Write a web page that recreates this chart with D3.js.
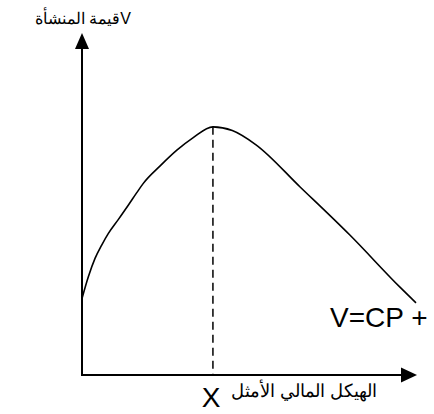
<!DOCTYPE html>
<html><head><meta charset="utf-8">
<script src="https://cdn.jsdelivr.net/npm/d3@7"></script>
<style>body{margin:0;background:#fff}svg{display:block}</style>
</head><body>
<script>
// Curve of firm value V against financial structure (0..100 units)
const curveX = [0, 1.9, 3.9, 5.9, 7.9, 10.9, 13.9, 16.4, 18.3, 23.4, 28.4, 33.2, 39.2, 45, 52, 65.3, 80.2, 95.2, 100];
const curveV = [22.9, 29.4, 34.9, 38.9, 42.4, 46.6, 50.9, 54.6, 57.3, 62.6, 67.3, 71.0, 74.3, 73.2, 69.0, 56.3, 41.9, 26.3, 21.6];
const optimumX = 39.2;
const optimumV = 74.3;
const yLabel = "قيمة المنشأةV";
const xLabel = "الهيكل المالي الأمثل";
const xMark = "X";
const curveLabel = "V=CP +";

const W = 434, H = 414;
const svg = d3.select("body").append("svg").attr("width", W).attr("height", H);
const x = d3.scaleLinear().domain([0, 100]).range([82, 416]);
const y = d3.scaleLinear().domain([0, 100]).range([375, 41]);

// axes
svg.append("line").attr("x1", x(0)).attr("y1", y(0)).attr("x2", x(0)).attr("y2", 48)
  .attr("stroke", "#000").attr("stroke-width", 2);
svg.append("path").attr("d", `M${x(0)-7},49 L${x(0)},33 L${x(0)+7},49 Z`).attr("fill", "#000");
svg.append("line").attr("x1", x(0)-1).attr("y1", y(0)).attr("x2", 402).attr("y2", y(0))
  .attr("stroke", "#000").attr("stroke-width", 2);
svg.append("path").attr("d", `M401,${y(0)-7.5} L417,${y(0)} L401,${y(0)+7.5} Z`).attr("fill", "#000");

// dashed optimum line
svg.append("line").attr("x1", x(optimumX)).attr("y1", y(optimumV)).attr("x2", x(optimumX)).attr("y2", y(0))
  .attr("stroke", "#000").attr("stroke-width", 1.5).attr("stroke-dasharray", "8,5");

// curve
const pts = curveX.map((d, i) => [d, curveV[i]]);
svg.append("path").datum(pts)
  .attr("d", d3.line().x(d => x(d[0])).y(d => y(d[1])).curve(d3.curveMonotoneX))
  .attr("fill", "none").attr("stroke", "#000").attr("stroke-width", 1.6);

// labels
const font = "'Liberation Sans', Arial, sans-serif";
svg.append("text").attr("x", 131).attr("y", 24).attr("text-anchor", "end")
  .attr("font-family", font).attr("font-size", 16).attr("direction", "ltr").text(yLabel);
svg.append("text").attr("x", 377).attr("y", 397).attr("text-anchor", "end")
  .attr("font-family", font).attr("font-size", 18).text(xLabel);
svg.append("text").attr("x", 211).attr("y", 407).attr("text-anchor", "middle")
  .attr("font-family", font).attr("font-size", 28).text(xMark);
svg.append("text").attr("x", 330).attr("y", 327)
  .attr("font-family", font).attr("font-size", 28).text(curveLabel);
</script>
</body></html>
